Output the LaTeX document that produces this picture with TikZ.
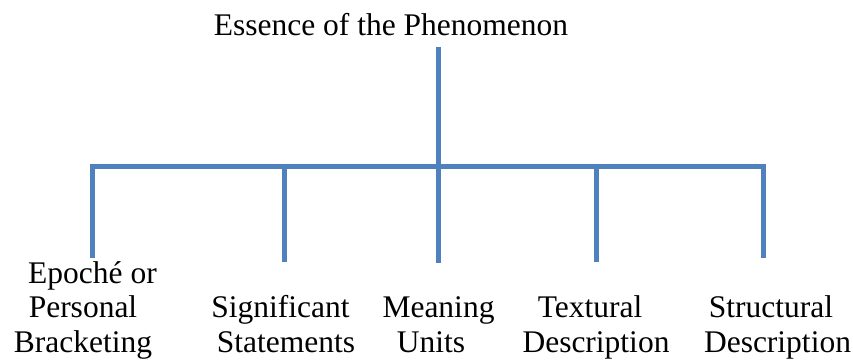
\documentclass[tikz,border=0pt]{standalone}
\usepackage{fontspec}
\setmainfont{Liberation Serif}
\definecolor{barblue}{HTML}{4F81BD}
\begin{document}
\begin{tikzpicture}[x=1pt,y=-1pt,
  bar/.style={draw=barblue,line width=5pt},
  lbl/.style={inner sep=0pt,anchor=base,align=center,font=\fontsize{31.5}{34.5}\selectfont}]
\useasboundingbox (0,0) rectangle (853,362);
% title
\node[lbl] (title) at (391,35) {Essence of the Phenomenon};
% coordinates
\coordinate (top) at (438.7,47);
\coordinate (busL) at (89.5,166);
\coordinate (busR) at (765.5,166);
\coordinate (j1) at (92,163.5);   \coordinate (e1) at (92,258);
\coordinate (j2) at (284,166);    \coordinate (e2) at (284,262);
\coordinate (e3) at (438.7,263);
\coordinate (j4) at (596,166);    \coordinate (e4) at (596,262);
\coordinate (j5) at (763,163.5);  \coordinate (e5) at (763,258);
% lines
\draw[bar] (busL) -- (busR);
\draw[bar] (j1) -- (e1);
\draw[bar] (j2) -- (e2);
\draw[bar] (top) -- (e3);
\draw[bar] (j4) -- (e4);
\draw[bar] (j5) -- (e5);
% labels
\node[lbl] (l1) at (83,352) {\hspace*{19pt}Epoché or\\Personal\\Bracketing};
\node[lbl] (l2) at (286,352) {Significant\hspace*{11pt}\\Statements};
\node[lbl] (l3) at (438.5,352) {Meaning\\Units\hspace*{15pt}};
\node[lbl] (l4) at (596,352) {Textural\hspace*{12pt}\\Description};
\node[lbl] (l5) at (777.5,352) {Structural\hspace*{13pt}\\Description};
\end{tikzpicture}
\end{document}
